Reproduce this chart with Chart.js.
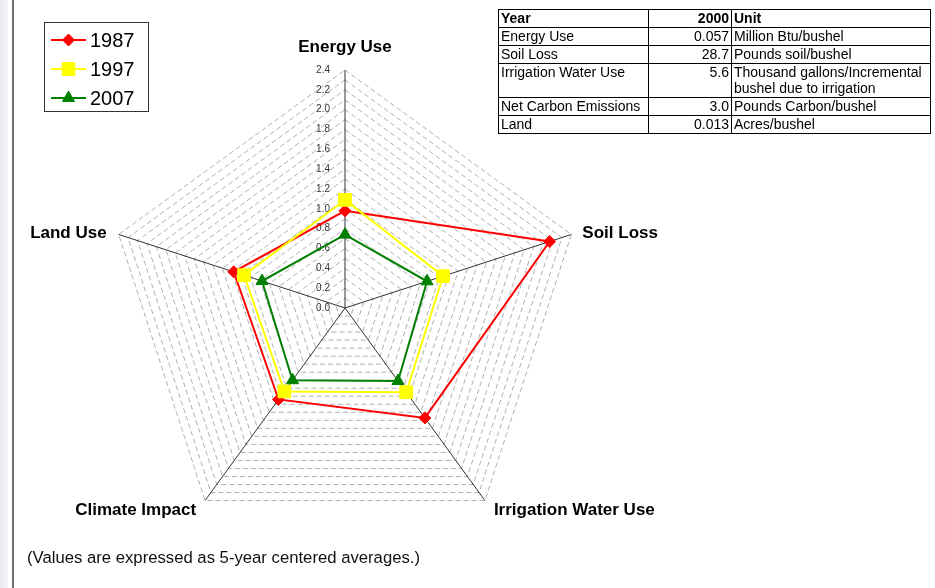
<!DOCTYPE html>
<html>
<head>
<meta charset="utf-8">
<script src="https://cdn.jsdelivr.net/npm/chart.js@4.4.1/dist/chart.umd.min.js"></script>
<style>
html,body{margin:0;padding:0;background:#fff;width:935px;height:588px;overflow:hidden;font-family:"Liberation Sans",Arial,sans-serif;}
#wrap{position:relative;width:935px;height:588px;}
#c{position:absolute;left:0;top:0;}
#strip{position:absolute;left:0;top:0;width:8px;height:588px;background:linear-gradient(to right,#e8eaef,#f6f7f9);}
#vline{position:absolute;left:12px;top:0;width:2px;height:588px;background:#707070;}
#tbl{position:absolute;left:498px;top:9px;width:432px;border-collapse:collapse;font-size:14px;line-height:16px;color:#000;table-layout:fixed;}
#tbl td{border:1px solid #000;padding:0 2px;vertical-align:top;white-space:nowrap;overflow:hidden;}
#tbl td.num{text-align:right;}
#tbl tr.hd td{font-weight:bold;}
#note{position:absolute;left:27px;top:549px;font-size:16.7px;line-height:18px;color:#111;}
</style>
</head>
<body>
<div id="wrap">
  <div id="strip"></div>
  <div id="vline"></div>
  <canvas id="c" width="935" height="588"></canvas>
  <table id="tbl"></table>
  <div id="note"></div>
</div>
<script>
// ---- data ----
const categories = ['Energy Use', 'Soil Loss', 'Irrigation Water Use', 'Climate Impact', 'Land Use'];
const seriesNames = ['1987', '1997', '2007'];
const values1987 = [0.98, 2.17, 1.37, 1.14, 1.18];
const values1997 = [1.09, 1.04, 1.05, 1.04, 1.07];
const values2007 = [0.74, 0.87, 0.91, 0.90, 0.88];
const tickLabels = ['0.0','0.2','0.4','0.6','0.8','1.0','1.2','1.4','1.6','1.8','2.0','2.2','2.4'];
const tableHeader = ['Year', '2000', 'Unit'];
const tableNames = ['Energy Use', 'Soil Loss', 'Irrigation Water Use', 'Net Carbon Emissions', 'Land'];
const tableValues = ['0.057', '28.7', '5.6', '3.0', '0.013'];
const tableUnits = ['Million Btu/bushel', 'Pounds soil/bushel', 'Thousand gallons/Incremental<br>bushel due to irrigation', 'Pounds Carbon/bushel', 'Acres/bushel'];
const noteText = '(Values are expressed as 5-year centered averages.)';

// ---- table & note ----
(function(){
  const t = document.getElementById('tbl');
  const colW = [150, 83, 199];
  let html = '<colgroup>' + colW.map(w => '<col style="width:' + w + 'px">').join('') + '</colgroup>';
  html += '<tr class="hd" style="height:18px"><td>' + tableHeader[0] + '</td><td class="num">' + tableHeader[1] + '</td><td>' + tableHeader[2] + '</td></tr>';
  tableNames.forEach((n, i) => {
    const h = tableUnits[i].indexOf('<br>') >= 0 ? 34 : 18;
    html += '<tr style="height:' + h + 'px"><td>' + n + '</td><td class="num">' + tableValues[i] + '</td><td>' + tableUnits[i] + '</td></tr>';
  });
  t.innerHTML = html;
  document.getElementById('note').textContent = noteText;
})();

const FONT = '"Liberation Sans", Arial, sans-serif';

function marker(ctx, style, r, x, y, color) {
  ctx.save();
  ctx.fillStyle = color; ctx.strokeStyle = color; ctx.lineWidth = 1;
  if (Chart.helpers && Chart.helpers.drawPoint) {
    Chart.helpers.drawPoint(ctx, {pointStyle: style, radius: r, rotation: 0, borderWidth: 1}, x, y);
  }
  ctx.restore();
}

const tickPlugin = {
  id: 'tickLabels',
  beforeDatasetsDraw(chart) {
    const s = chart.scales.r, ctx = chart.ctx;
    ctx.save();
    ctx.font = '10px ' + FONT;
    ctx.fillStyle = '#333';
    ctx.textAlign = 'right';
    ctx.textBaseline = 'middle';
    tickLabels.forEach(t => {
      const d = s.getDistanceFromCenterForValue(parseFloat(t));
      ctx.fillText(t, s.xCenter - 15, s.yCenter - d);
    });
    ctx.restore();
  }
};

const labelPlugin = {
  id: 'axisLabels',
  afterDraw(chart) {
    const s = chart.scales.r, ctx = chart.ctx;
    ctx.save();
    ctx.font = 'bold 17px ' + FONT;
    ctx.fillStyle = '#000';
    ctx.textBaseline = 'middle';
    categories.forEach((lab, i) => {
      const p = s.getPointPosition(i, s.drawingArea);
      const dx = p.x - s.xCenter;
      let x = p.x, y = p.y;
      if (Math.abs(dx) < 1) { ctx.textAlign = 'center'; y = p.y - 23; }
      else if (p.y < s.yCenter) { ctx.textAlign = dx > 0 ? 'left' : 'right'; x = p.x + (dx > 0 ? 11 : -12); y = p.y - 1; }
      else { ctx.textAlign = dx > 0 ? 'left' : 'right'; x = p.x + (dx > 0 ? 9 : -9); y = p.y + 10; }
      ctx.fillText(lab, x, y);
    });
    // legend
    ctx.strokeStyle = '#333'; ctx.lineWidth = 1;
    ctx.strokeRect(44.5, 22.5, 104, 89);
    ctx.font = '20px ' + FONT;
    ctx.textAlign = 'left';
    chart.data.datasets.forEach((ds, i) => {
      const y = 40 + i * 29;
      ctx.strokeStyle = ds.borderColor; ctx.lineWidth = 2;
      ctx.beginPath(); ctx.moveTo(51, y); ctx.lineTo(86, y); ctx.stroke();
      marker(ctx, ds.pointStyle, ds.pointRadius, 68.5, y, ds.borderColor);
      ctx.fillStyle = '#000';
      ctx.fillText(ds.label, 90, y + 1);
    });
    ctx.restore();
  }
};

new Chart(document.getElementById('c'), {
  type: 'radar',
  data: {
    labels: categories,
    datasets: [
      {label: seriesNames[0], data: values1987, borderColor: '#ff0000', backgroundColor: '#ff0000', pointBackgroundColor: '#ff0000', pointBorderColor: '#ff0000', pointStyle: 'rectRot', pointRadius: 6, borderWidth: 2, pointBorderWidth: 1, fill: false, order: 3},
      {label: seriesNames[1], data: values1997, borderColor: '#ffff00', backgroundColor: '#ffff00', pointBackgroundColor: '#ffff00', pointBorderColor: '#ffff00', pointStyle: 'rect', pointRadius: 9, borderWidth: 2, pointBorderWidth: 1, fill: false, order: 2},
      {label: seriesNames[2], data: values2007, borderColor: '#008000', backgroundColor: '#008000', pointBackgroundColor: '#008000', pointBorderColor: '#008000', pointStyle: 'triangle', pointRadius: 7, borderWidth: 2, pointBorderWidth: 1, fill: false, order: 1}
    ]
  },
  options: {
    responsive: false,
    animation: false,
    devicePixelRatio: 1,
    layout: {padding: {left: 107, top: 70, right: 352, bottom: 42}},
    elements: {line: {tension: 0}},
    plugins: {legend: {display: false}, tooltip: {enabled: false}, title: {display: false}},
    scales: {
      r: {
        min: 0, max: 2.4,
        ticks: {display: false, stepSize: 0.1, maxTicksLimit: 40},
        grid: {color: '#b0b0b0', lineWidth: 1, circular: false},
        border: {dash: [5, 3]},
        angleLines: {color: '#333', lineWidth: 1},
        pointLabels: {display: false}
      }
    }
  },
  plugins: [tickPlugin, labelPlugin]
});
</script>
</body>
</html>
